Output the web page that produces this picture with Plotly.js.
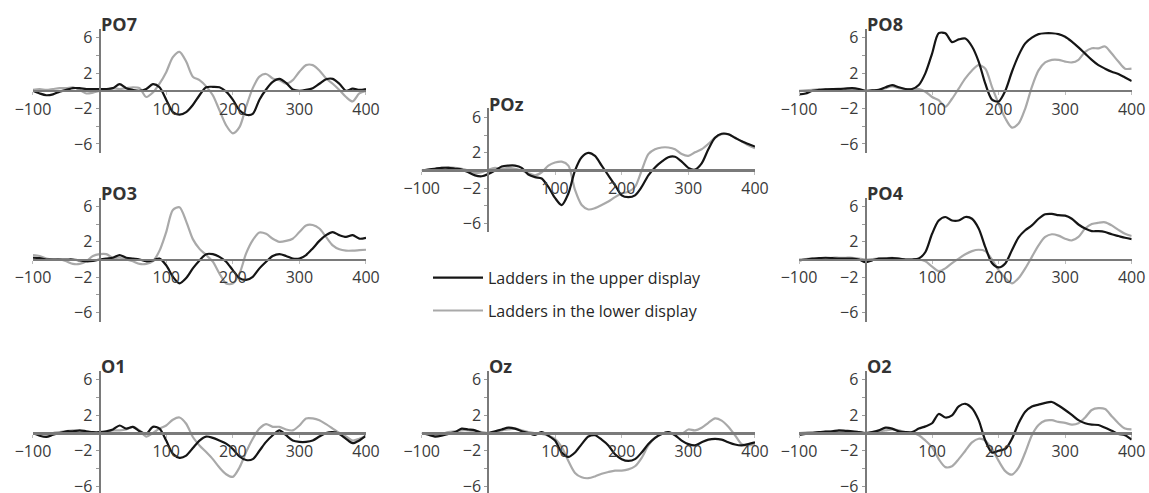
<!DOCTYPE html>
<html><head><meta charset="utf-8">
<script src="https://cdn.plot.ly/plotly-3.0.1.min.js"></script>
<style>html,body{margin:0;padding:0;background:#fff}#chart{width:1149px;height:493px}</style>
</head><body><div id="chart"></div>
<script>
// time in ms
const time = [-100,-90,-80,-70,-60,-50,-40,-30,-20,-10,0,10,20,30,40,50,60,70,80,90,100,110,120,130,140,150,160,170,180,190,200,210,220,230,240,250,260,270,280,290,300,310,320,330,340,350,360,370,380,390,400];

const seriesNames = ['Ladders in the upper display', 'Ladders in the lower display'];

const upperPO7 = [0,-0.3,-0.5,-0.4,-0.1,0.1,0.3,0.3,0.2,0.2,0.2, 0.2,0.3,0.75,0.3,0.1,0,0.2,0.75,0.4,-1.0, -2.4,-2.7,-2.4,-1.6,-0.5,0.4,0.45,0.4,-0.1,-1.0, -2.2,-2.7,-2.6,-1.0,0.15,1.0,1.35,0.9,0.15,0, 0.1,0.3,0.8,1.3,1.35,0.8,0,0.25,0.1,0.2];
const lowerPO7 = [0.1,0.2,0.1,0.2,0.3,0.3,0.4,0.1,-0.3,-0.2,0, 0.1,0.3,0.2,0.3,0.4,0.3,-0.7,-0.2,0.8,2.1, 3.8,4.4,3.3,1.6,1.2,0.5,-0.5,-2.2,-3.9,-4.8, -4.1,-1.8,0.3,1.6,1.9,1.4,1.2,0.8,1.2,2.15, 2.9,2.9,2.3,1.4,0.8,0.1,-0.7,-1.2,-0.3,0];

const upperPOz = [0,0.1,0.2,0.3,0.3,0.2,0.1,-0.2,-0.55,-0.65,-0.4, 0,0.45,0.55,0.55,0.3,-0.45,-0.75,-0.9,-1.85,-3.1, -3.9,-2.6,0,1.5,2.0,1.65,0.55,-0.55,-1.65,-2.8, -3.0,-2.8,-1.85,-0.55,0.35,1.0,1.5,1.55,1.0,0.3, 0.1,0.8,2.4,3.7,4.15,4.1,3.7,3.3,3.0,2.7];
const lowerPOz = [0,0.1,0.2,0.3,0.35,0.3,0.2,0,-0.3,-0.2,0.1, 0.3,0.2,0.3,0.2,0,-0.3,-0.55,-0.2,0.55,0.9, 1.0,0.55,-2.2,-3.9,-4.4,-4.25,-3.9,-3.5,-3.0,-2.6, -2.4,-1.85,0,1.85,2.4,2.6,2.6,2.4,1.85,1.65, 2.05,2.4,3.0,3.7,4.1,4.1,3.7,3.3,2.85,2.5];

const upperPO8 = [-0.4,-0.3,0,0.1,0.15,0.2,0.2,0.25,0.3,0.2,0, 0.05,0.1,0.4,0.65,0.4,0.2,0.2,0.65,2.0,4.2, 6.5,6.5,5.5,5.8,5.9,5.0,3.3,0.8,-1.0,-1.2, 0.0,2.15,4.0,5.35,6.0,6.4,6.5,6.5,6.4,6.1, 5.55,4.9,4.2,3.5,2.9,2.5,2.15,1.9,1.5,1.1];
const lowerPO8 = [0,0.05,0.1,0.15,0.2,0.2,0.25,0.25,0.2,0.1,0, 0.05,0.1,0.3,0.5,0.3,0.2,0.2,0.2,-0.1,-0.7, -1.05,-1.8,-0.9,0.25,1.4,2.3,2.9,2.5,0.45,-1.45, -3.1,-4.15,-3.7,-2.0,0.45,2.3,3.2,3.5,3.5,3.3, 3.2,3.5,4.4,4.8,4.8,5.0,4.2,3.3,2.5,2.5];

const upperPO3 = [0.2,0.15,0,0,0,0,0,-0.1,-0.2,-0.15,0, 0.1,0.2,0.5,0.2,0.1,0,-0.2,-0.1,0.1,-0.65, -1.95,-2.7,-2.1,-1.0,-0.1,0.6,0.6,0.3,-0.25,-1.2, -2.1,-2.3,-1.95,-1.0,-0.25,0.4,0.6,0.4,0.1,0.1, 0.5,1.25,2.1,2.75,3.1,2.75,2.55,2.75,2.35,2.45];
const lowerPO3 = [0.5,0.4,0.1,0,0,-0.2,-0.5,-0.5,-0.2,0.4,0.6, 0.6,0.2,0.2,0,-0.2,-0.5,-0.5,-0.2,1.0,3.1, 5.6,5.9,4.3,2.3,1.2,0.5,-0.25,-1.6,-2.7,-2.7, -1.6,0.7,2.2,3.05,2.9,2.35,2.0,2.1,2.35,3.1, 3.85,3.9,3.5,2.55,1.6,1.15,1.0,1.0,1.05,1.1];

const upperPO4 = [-0.1,0,0.1,0.15,0.2,0.15,0.1,0.1,0.1,0,-0.3, -0.1,0.1,0.1,0.15,0.1,0,0,0.1,0.85,2.9, 4.4,4.8,4.4,4.4,4.8,4.6,3.5,1.4,-0.4,-0.9, -0.45,1.05,2.5,3.3,3.85,4.6,5.1,5.15,5.0,4.95, 4.6,3.95,3.5,3.2,3.2,3.1,2.85,2.65,2.45,2.3];
const lowerPO4 = [0,0.05,0.1,0.1,0.15,0.2,0.2,0.2,0.2,0.1,0, 0.05,0.1,0.15,0.2,0.1,0,0,0,-0.2,-0.8, -1.3,-1.0,-0.4,0.1,0.6,0.95,1.1,0.95,0,-1.2, -2.1,-2.7,-2.1,-1.0,0.3,1.6,2.55,2.85,2.7,2.35, 2.15,2.55,3.5,4.0,4.15,4.2,3.85,3.35,2.9,2.65];

const upperO1 = [0,-0.3,-0.45,-0.2,0,0.2,0.2,0.3,0.2,0.1,0.1, 0.2,0.4,0.85,0.5,0.7,0.2,-0.1,0.7,0.5,-0.85, -2.35,-2.8,-2.55,-1.7,-0.85,-0.4,-0.55,-0.85,-1.2,-1.8, -2.65,-3.05,-2.95,-2.0,-1.0,-0.25,0.3,-0.25,-0.85,-1.0, -1.0,-0.85,-0.4,0,0.1,-0.1,-0.65,-1.15,-0.85,-0.3];
const lowerO1 = [0,-0.1,-0.2,0,0.1,0.2,0.3,0.2,0,0,0, 0.1,0.3,0.3,0.4,0.7,0.3,-0.4,0,0.5,0.85, 1.5,1.75,1.05,-0.45,-1.4,-2.15,-2.95,-3.9,-4.65,-4.95, -3.9,-2.15,-0.65,0.5,1.0,0.7,0.7,0.4,0.3,0.85, 1.65,1.65,1.45,1.0,0.5,0,-0.4,-0.85,-0.65,-0.3];

const upperOz = [0,-0.2,-0.4,-0.3,-0.1,0.1,0.5,0.4,0.3,0,0, 0.2,0.4,0.6,0.5,0.2,0,-0.2,0.1,-0.3,-0.85, -2.2,-2.7,-2.2,-1.25,-0.4,-0.25,-0.75,-1.4,-2.4,-2.95, -3.15,-2.95,-2.2,-1.25,-0.55,-0.1,0.1,-0.25,-0.85,-1.25, -1.4,-1.05,-0.75,-0.65,-0.75,-1.05,-1.3,-1.4,-1.25,-1.05];
const lowerOz = [0,-0.1,-0.2,-0.1,0.1,0.2,0.3,0.3,0.2,0.1,0, 0.1,0.3,0.4,0.5,0.3,0.1,0,-0.1,-0.3,-0.65, -1.6,-3.15,-4.5,-5.0,-5.1,-4.9,-4.6,-4.4,-4.25,-4.25, -4.1,-3.75,-2.8,-1.4,-0.55,-0.1,0.1,-0.1,-0.1,0.4, 0.3,0.6,1.15,1.65,1.4,0.7,-0.25,-1.25,-1.4,-1.25];

const upperO2 = [-0.2,-0.1,0,0.1,0.15,0.2,0.3,0.25,0.2,0.1,0, 0.1,0.3,0.6,0.5,0.2,0.1,0.1,0.5,0.75,1.1, 2.15,1.75,2.0,3.0,3.3,2.8,1.45,-0.85,-2.2,-2.0, -1.8,-0.65,1.1,2.4,3.0,3.2,3.4,3.5,3.1,2.6, 2.05,1.45,1.1,0.95,0.9,0.6,0.25,-0.1,-0.25,-0.75];
const lowerO2 = [0,0.05,0.1,0.1,0.15,0.2,0.2,0.2,0.15,0.1,0, 0.1,0.2,0.3,0.4,0.3,0.1,0,-0.25,-0.85,-1.6, -2.95,-3.85,-3.75,-2.95,-2.0,-1.05,-0.65,-0.85,-1.8,-3.15, -4.3,-4.7,-3.9,-2.2,-0.25,0.9,1.4,1.45,1.25,1.15, 0.95,1.1,1.75,2.6,2.8,2.7,1.9,1.1,0.5,0.4];

const xTickVals = [-100,100,200,300,400];
const xTickText = ['\u2212100','100','200','300','400'];
const yTickVals = [-6,-4,-2,2,4,6];
const yTickText = ['\u22126','','\u22122','2','','6'];

// layout placement (paper fractions)
const colDom = [[0.02872,0.31854],[0.36702,0.65709],[0.69539,0.98494]];
const rowDom = {top:[0.69006,0.94158], poz:[0.52840,0.77992], mid:[0.34787,0.59939], bot:[0,0.24746]};
const rowRange = {top:[-7,7], poz:[-7,7], mid:[-7,7], bot:[-6.77,7]};

const panels = [
  {name:'PO7', up:upperPO7, lo:lowerPO7, col:0, row:'top'},
  {name:'PO8', up:upperPO8, lo:lowerPO8, col:2, row:'top'},
  {name:'POz', up:upperPOz, lo:lowerPOz, col:1, row:'poz'},
  {name:'PO3', up:upperPO3, lo:lowerPO3, col:0, row:'mid'},
  {name:'PO4', up:upperPO4, lo:lowerPO4, col:2, row:'mid'},
  {name:'O1',  up:upperO1,  lo:lowerO1,  col:0, row:'bot'},
  {name:'Oz',  up:upperOz,  lo:lowerOz,  col:1, row:'bot'},
  {name:'O2',  up:upperO2,  lo:lowerO2,  col:2, row:'bot'}
];

const FONT = 'Open Sans, Noto Sans, sans-serif';
const BLACK = '#151515', GRAY = '#a9a9a9';
const traces = [];
const layout = {
  width:1149, height:493,
  margin:{l:0,r:0,t:0,b:0},
  paper_bgcolor:'#fff', plot_bgcolor:'rgba(0,0,0,0)',
  font:{family:FONT, size:16, color:'#3a3a3a'},
  showlegend:true,
  legend:{x:0.3725, y:0.471, xanchor:'left', yanchor:'top', bgcolor:'rgba(0,0,0,0)',
          font:{family:FONT, size:16, color:'#262626'}, traceorder:'grouped', tracegroupgap:9, itemwidth:50},
  annotations:[]
};

panels.forEach((p,i)=>{
  const n = i+1;
  const xa = 'x'+(n===1?'':n), ya = 'y'+(n===1?'':n);
  const xd = colDom[p.col], yd = rowDom[p.row], yr = rowRange[p.row];
  const y0pos = yd[0] + (0 - yr[0])/(yr[1]-yr[0])*(yd[1]-yd[0]);
  const x0pos = xd[0] + (0 - (-100))/500*(xd[1]-xd[0]);
  traces.push({x:time, y:p.lo, xaxis:xa, yaxis:ya, type:'scatter', mode:'lines',
    line:{color:GRAY, width:2.2, shape:'spline', smoothing:0.8},
    name:seriesNames[1], legendgroup:'lower', legendrank:2, showlegend:i===0, hoverinfo:'skip'});
  traces.push({x:time, y:p.up, xaxis:xa, yaxis:ya, type:'scatter', mode:'lines',
    line:{color:BLACK, width:2.2, shape:'spline', smoothing:0.8},
    name:seriesNames[0], legendgroup:'upper', legendrank:1, showlegend:i===0, hoverinfo:'skip'});
  layout['xaxis'+(n===1?'':n)] = {
    domain:xd, range:[-100,400], anchor:'free', position:y0pos,
    showline:true, linecolor:'#7a7a7a', linewidth:2.5,
    showgrid:false, zeroline:false,
    tickmode:'array', tickvals:xTickVals, ticktext:xTickText,
    ticks:'outside', ticklen:3, tickcolor:'#bdbdbd', tickwidth:1,
    tickfont:{family:FONT, size:16, color:'#3a3a3a'}, fixedrange:true,
    ticklabeloverflow:'allow'
  };
  layout['yaxis'+(n===1?'':n)] = {
    domain:yd, range:yr, anchor:'free', position:x0pos,
    showline:true, linecolor:'#7a7a7a', linewidth:2,
    showgrid:false, zeroline:false,
    tickmode:'array', tickvals:yTickVals, ticktext:yTickText,
    ticks:'outside', ticklen:3, tickcolor:'#9a9a9a', tickwidth:1,
    tickfont:{family:FONT, size:16, color:'#3a3a3a'}, fixedrange:true,
    ticklabeloverflow:'allow'
  };
  layout.annotations.push({xref:xa, yref:ya, x:0, y:6.05, xanchor:'left', yanchor:'bottom',
    text:'<b>'+p.name+'</b>', showarrow:false, borderpad:0,
    font:{family:FONT, size:18, color:'#333'}});
});

Plotly.newPlot('chart', traces, layout, {staticPlot:true, displayModeBar:false});
</script>
</body></html>
